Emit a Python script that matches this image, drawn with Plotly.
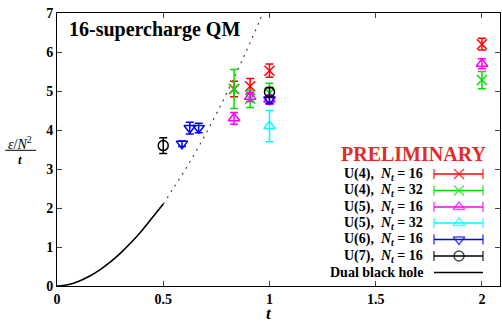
import plotly.graph_objects as go

# ---------------- data ----------------
u4_16_t = [0.8333, 0.9091, 1.0, 2.0]
u4_16_e = [5.05, 5.12, 5.52, 6.20]
u4_16_err = [0.20, 0.20, 0.17, 0.15]

u4_32_t = [0.8333, 0.9091, 1.0, 2.0]
u4_32_e = [5.05, 4.80, 4.95, 5.28]
u4_32_err = [0.50, 0.22, 0.25, 0.22]

u5_16_t = [0.8333, 0.9091, 1.0, 2.0]
u5_16_e = [4.30, 4.85, 4.78, 5.70]
u5_16_err = [0.15, 0.12, 0.12, 0.13]

u5_32_t = [1.0]
u5_32_e = [4.10]
u5_32_err = [0.40]

u6_16_t = [0.5882, 0.625, 0.6667, 1.0]
u6_16_e = [3.65, 4.05, 4.05, 4.78]
u6_16_err = [0.07, 0.15, 0.12, 0.10]

u7_16_t = [0.5, 1.0]
u7_16_e = [3.60, 4.97]
u7_16_err = [0.20, 0.12]

# dual black hole curve
bh_t = [0.0, 0.05, 0.1, 0.15, 0.2, 0.25, 0.3, 0.35, 0.4, 0.45, 0.5]
bh_e = [0.0, 0.034, 0.117, 0.244, 0.409, 0.611, 0.849, 1.120, 1.424, 1.761, 2.10]
bh_dot_t = [0.5, 0.55, 0.6, 0.65, 0.7, 0.75, 0.8, 0.85, 0.9, 0.95, 0.97]
bh_dot_e = [2.10, 2.527, 2.954, 3.412, 3.899, 4.415, 4.959, 5.531, 6.130, 6.757, 7.015]

x_ticks = [0, 0.5, 1, 1.5, 2]
x_ticklabels = ["0", "0.5", "1", "1.5", "2"]
y_ticks = [0, 1, 2, 3, 4, 5, 6, 7]
y_ticklabels = ["0", "1", "2", "3", "4", "5", "6", "7"]

series = [
    ("U(4),  <i>N<sub>t</sub></i> = 16", u4_16_t, u4_16_e, u4_16_err, "#ff0000", "x-thin-open", 10),
    ("U(4),  <i>N<sub>t</sub></i> = 32", u4_32_t, u4_32_e, u4_32_err, "#00e000", "x-thin-open", 10),
    ("U(5),  <i>N<sub>t</sub></i> = 16", u5_16_t, u5_16_e, u5_16_err, "#ff00ff", "triangle-up-open", 10),
    ("U(5),  <i>N<sub>t</sub></i> = 32", u5_32_t, u5_32_e, u5_32_err, "#00ffff", "triangle-up-open", 10),
    ("U(6),  <i>N<sub>t</sub></i> = 16", u6_16_t, u6_16_e, u6_16_err, "#0000ff", "triangle-down-open", 10),
    ("U(7),  <i>N<sub>t</sub></i> = 16", u7_16_t, u7_16_e, u7_16_err, "#000000", "circle-open", 10),
]

FONT = "Liberation Serif"
fig = go.Figure()

fig.add_trace(go.Scatter(x=bh_t, y=bh_e, mode="lines", line=dict(color="black", width=1.6, shape="spline"),
                         showlegend=False, hoverinfo="skip"))
fig.add_trace(go.Scatter(x=bh_dot_t, y=bh_dot_e, mode="lines",
                         line=dict(color="#444444", width=1.2, dash="2px,5px", shape="spline"),
                         showlegend=False, hoverinfo="skip"))

for name, t, e, err, col, sym, sz in series:
    fig.add_trace(go.Scatter(
        x=t, y=e, mode="markers",
        marker=dict(symbol=sym, size=sz, color=col, line=dict(color=col, width=1.5)),
        error_y=dict(type="data", array=err, visible=True, color=col, thickness=1.5, width=4),
        showlegend=False, name=name))

# ---------- manual gnuplot-style key (on an overlay axis in pixel units) ----------
key_rows = [174, 190.5, 207, 223, 239.5, 256, 272.5]
annotations = []
for i, (name, t, e, err, col, sym, sz) in enumerate(series):
    yy = key_rows[i]
    fig.add_trace(go.Scatter(
        x=[434, 459, 483], y=[yy, yy, yy], xaxis="x2", yaxis="y2", mode="lines+markers",
        line=dict(color=col, width=1.5),
        marker=dict(symbol=["line-ns", sym, "line-ns"], size=[7, sz, 7], color=col,
                    line=dict(color=col, width=1.5)),
        showlegend=False, hoverinfo="skip"))
    annotations.append(dict(x=425, y=yy, xref="x2", yref="y2", text="<b>" + name + "</b>",
                            showarrow=False, xanchor="right", yanchor="middle",
                            font=dict(family=FONT, size=14, color="black")))
fig.add_trace(go.Scatter(x=[434, 483], y=[key_rows[6]] * 2, xaxis="x2", yaxis="y2", mode="lines",
                         line=dict(color="black", width=1.5), showlegend=False, hoverinfo="skip"))
annotations.append(dict(x=425, y=key_rows[6], xref="x2", yref="y2", text="<b>Dual black hole</b>",
                        showarrow=False, xanchor="right", yanchor="middle",
                        font=dict(family=FONT, size=14, color="black")))
annotations.append(dict(x=413, y=154, xref="x2", yref="y2", text="<b>PRELIMINARY</b>",
                        showarrow=False, xanchor="center", yanchor="middle",
                        font=dict(family=FONT, size=20, color="#e32b2b")))
annotations.append(dict(x=67, y=29, xref="x2", yref="y2", text="<b>16-supercharge QM</b>",
                        showarrow=False, xanchor="left", yanchor="middle",
                        font=dict(family=FONT, size=20, color="black")))
# axis titles (paper coordinates, outside the plot area)
annotations.append(dict(x=0.4786, y=-0.1, xref="paper", yref="paper", text="<b><i>t</i></b>",
                        showarrow=False, xanchor="center", yanchor="middle",
                        font=dict(family=FONT, size=17, color="black")))
annotations.append(dict(x=-0.0835, y=0.525, xref="paper", yref="paper", text="<i>ε</i>/<i>N</i><sup>2</sup>",
                        showarrow=False, xanchor="center", yanchor="middle",
                        font=dict(family=FONT, size=14, color="black")))
annotations.append(dict(x=-0.0835, y=0.462, xref="paper", yref="paper", text="<b><i>t</i></b>",
                        showarrow=False, xanchor="center", yanchor="middle",
                        font=dict(family=FONT, size=13, color="black")))

shapes = [dict(type="line", xref="paper", yref="paper", x0=-0.117, x1=-0.047, y0=0.497, y1=0.497,
               line=dict(color="black", width=1))]

fig.update_layout(
    width=502, height=323,
    margin=dict(l=57, r=2, t=13, b=37),
    paper_bgcolor="white", plot_bgcolor="white",
    showlegend=False,
    annotations=annotations, shapes=shapes,
    xaxis=dict(range=[0, 2.085], tickvals=x_ticks, ticktext=["<b>" + s + "</b>" for s in x_ticklabels],
               showline=True, linecolor="black", linewidth=1, mirror="ticks",
               ticks="inside", ticklen=5, tickcolor="#444444", showgrid=False, zeroline=False,
               tickfont=dict(family=FONT, size=14, color="black")),
    yaxis=dict(range=[0, 7], tickvals=y_ticks, ticktext=["<b>" + s + "</b>" for s in y_ticklabels],
               showline=True, linecolor="black", linewidth=1, mirror="ticks",
               ticks="inside", ticklen=5, tickcolor="#444444", showgrid=False, zeroline=False,
               tickfont=dict(family=FONT, size=14, color="black")),
    xaxis2=dict(overlaying="x", range=[57, 500], visible=False, fixedrange=True),
    yaxis2=dict(overlaying="y", range=[286, 13], visible=False, fixedrange=True),
)

fig.write_html("out.html")
